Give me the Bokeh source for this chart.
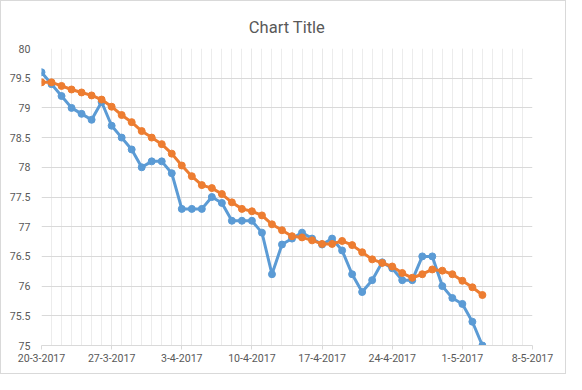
import pandas as pd
from bokeh.plotting import figure
from bokeh.models import Range1d, FixedTicker, NumeralTickFormatter
from bokeh.embed import file_html
from bokeh.resources import INLINE

# ---- data ----
start_date = "2017-03-20"
end_date = "2017-05-08"
first_day = "2017-03-20"
n_days = 45
dates = pd.date_range(first_day, periods=n_days, freq="D")

series_1 = [79.6, 79.4, 79.2, 79.0, 78.9, 78.8, 79.1, 78.7, 78.5, 78.3,
            78.0, 78.1, 78.1, 77.9, 77.3, 77.3, 77.3, 77.5, 77.4, 77.1,
            77.1, 77.1, 76.9, 76.2, 76.7, 76.8, 76.9, 76.8, 76.7, 76.8,
            76.6, 76.2, 75.9, 76.1, 76.4, 76.3, 76.1, 76.1, 76.5, 76.5,
            76.0, 75.8, 75.7, 75.4, 75.0]
series_2 = [79.43, 79.43, 79.37, 79.31, 79.26, 79.21, 79.14, 79.02, 78.88, 78.76,
            78.61, 78.50, 78.39, 78.23, 78.03, 77.85, 77.70, 77.65, 77.55, 77.41,
            77.30, 77.26, 77.19, 77.04, 76.94, 76.84, 76.82, 76.77, 76.71, 76.71,
            76.76, 76.69, 76.57, 76.45, 76.39, 76.33, 76.22, 76.14, 76.20, 76.28,
            76.26, 76.20, 76.09, 75.98, 75.85]

x_tick_dates = ["2017-03-20", "2017-03-27", "2017-04-03", "2017-04-10",
                "2017-04-17", "2017-04-24", "2017-05-01", "2017-05-08"]
x_tick_labels = ["20-3-2017", "27-3-2017", "3-4-2017", "10-4-2017",
                 "17-4-2017", "24-4-2017", "1-5-2017", "8-5-2017"]
y_ticks = [75, 75.5, 76, 76.5, 77, 77.5, 78, 78.5, 79, 79.5, 80]
y_min, y_max = 75, 80

title_text = "Chart Title"

# ---- helpers ----
def to_ms(d):
    return pd.Timestamp(d).value // 10**6

major_ms = [to_ms(d) for d in x_tick_dates]
minor_ms = [to_ms(d) for d in pd.date_range(start_date, end_date, freq="D")]

BLUE = "#5B9BD5"
ORANGE = "#ED7D31"
TEXT = "#595959"
FONT = "Roboto"

p = figure(width=566, height=374, x_axis_type="datetime",
           output_backend="svg", toolbar_location=None,
           x_range=Range1d(pd.Timestamp(start_date), pd.Timestamp(end_date)),
           y_range=Range1d(y_min, y_max),
           min_border_left=40, min_border_right=35,
           min_border_top=47, min_border_bottom=30,
           styles={"border": "1px solid #d9d9d9"})

p.title.text = title_text
p.title.align = "center"
p.title.text_font = FONT
p.title.text_font_size = "16.5px"
p.title.text_font_style = "normal"
p.title.text_color = TEXT
p.title.standoff = 23

p.outline_line_color = None
p.background_fill_color = "white"
p.border_fill_color = "white"

# x axis
p.xaxis.ticker = FixedTicker(ticks=major_ms, minor_ticks=minor_ms)
p.xaxis.major_label_overrides = {ms: lab for ms, lab in zip(major_ms, x_tick_labels)}
p.xaxis.axis_line_color = "#d9d9d9"
p.xaxis.major_tick_line_color = "#d9d9d9"
p.xaxis.major_tick_in = 0
p.xaxis.major_tick_out = 4
p.xaxis.minor_tick_line_color = None
p.xaxis.minor_tick_out = 0
p.xaxis.minor_tick_in = 0
p.xaxis.major_label_standoff = 4
p.xaxis.major_label_text_font = FONT
p.xaxis.major_label_text_font_size = "10.6px"
p.xaxis.major_label_text_color = TEXT

# y axis
p.yaxis.ticker = FixedTicker(ticks=y_ticks)
p.yaxis.formatter = NumeralTickFormatter(format="0.[0]")
p.yaxis.axis_line_color = None
p.yaxis.major_tick_line_color = None
p.yaxis.minor_tick_line_color = None
p.yaxis.major_tick_out = 0
p.yaxis.major_tick_in = 0
p.yaxis.minor_tick_out = 0
p.yaxis.minor_tick_in = 0
p.yaxis.major_label_standoff = 11
p.yaxis.major_label_text_font = FONT
p.yaxis.major_label_text_font_size = "10.6px"
p.yaxis.major_label_text_color = TEXT

# grids
p.xgrid.grid_line_color = "#e8e8e8"
p.xgrid.minor_grid_line_color = "#ececec"
p.ygrid.grid_line_color = "#d9d9d9"

# series
p.line(dates, series_1, line_color=BLUE, line_width=3)
p.scatter(dates, series_1, size=7, fill_color=BLUE, line_color=BLUE)
p.line(dates, series_2, line_color=ORANGE, line_width=3)
p.scatter(dates, series_2, size=7, fill_color=ORANGE, line_color=ORANGE)

open("out.html", "w").write(file_html(p, INLINE))
